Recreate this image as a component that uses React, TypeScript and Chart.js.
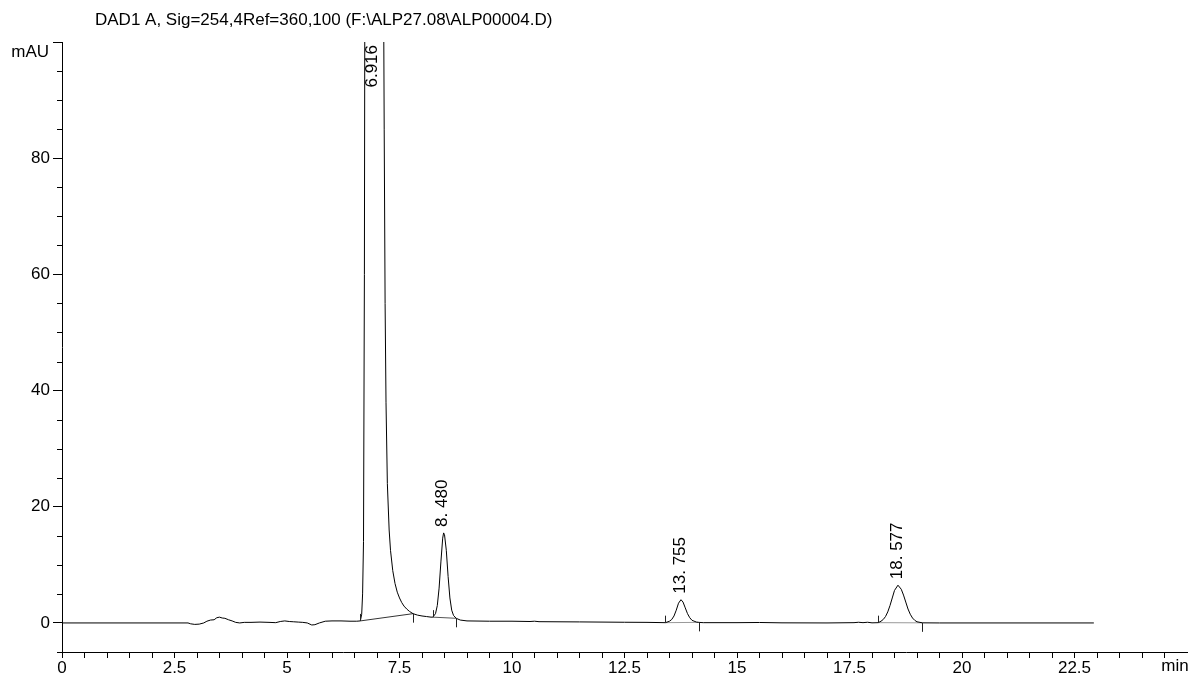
import { useEffect, useRef } from 'react';
import { Chart, registerables } from 'chart.js';

Chart.register(...registerables);

const TITLE = 'DAD1 A, Sig=254,4Ref=360,100 (F:\\ALP27.08\\ALP00004.D)';
const Y_UNIT = 'mAU';
const X_UNIT = 'min';

const times = [
  0, 1.0, 2.0, 2.8, 2.86, 2.95, 3.05, 3.15, 3.22, 3.30, 3.38, 3.44, 3.50, 3.56, 3.62, 3.70, 3.78, 3.86, 3.95,
  4.05, 4.20, 4.40, 4.60, 4.75, 4.85, 4.95, 5.05, 5.15, 5.25, 5.35, 5.45, 5.55, 5.62, 5.72, 5.85, 6.00, 6.20,
  6.40, 6.55, 6.63, 6.66, 6.68, 6.70, 6.72, 6.74, 6.78, 6.84, 6.916, 6.98, 7.04, 7.10, 7.14, 7.16, 7.18, 7.20,
  7.23, 7.27, 7.30, 7.35, 7.40, 7.45, 7.50, 7.55, 7.60, 7.66, 7.72, 7.80, 7.90, 8.00, 8.10, 8.20, 8.24, 8.30,
  8.34, 8.38, 8.42, 8.46, 8.48, 8.50, 8.54, 8.58, 8.62, 8.66, 8.70, 8.76, 8.85, 9.00, 9.50, 10.00, 10.40, 10.50,
  10.60, 11.00, 11.50, 12.00, 12.50, 13.00, 13.41, 13.50, 13.55, 13.60, 13.65, 13.70, 13.755, 13.80, 13.85,
  13.90, 13.95, 14.00, 14.10, 14.15, 14.25, 15.00, 15.50, 16.00, 17.00, 17.60, 17.70, 17.80, 17.90, 18.00,
  18.14, 18.20, 18.25, 18.30, 18.35, 18.40, 18.45, 18.50, 18.577, 18.65, 18.70, 18.75, 18.80, 18.85, 18.90,
  18.95, 19.00, 19.12, 19.50, 21.00, 22.93,
];

const signal = [
  0, 0, 0, 0, -0.15, -0.25, -0.2, 0.0, 0.3, 0.5, 0.55, 0.9, 1.0, 0.85, 0.8, 0.55, 0.35, 0.1, 0.0,
  0.1, 0.1, 0.15, 0.1, 0.05, 0.25, 0.35, 0.25, 0.2, 0.15, 0.1, 0.0, -0.35, -0.3, 0.0, 0.3, 0.35, 0.35,
  0.3, 0.3, 0.35, 1.5, 5, 14, 60, 160, 450, 900, 1200, 1000, 600, 260, 120, 85, 55, 38,
  24, 16, 12.5, 9, 6.8, 5.3, 4.3, 3.5, 2.9, 2.4, 2.0, 1.6, 1.35, 1.2, 1.1, 1.0, 1.0, 1.6,
  3.0, 6.0, 10.5, 14.6, 15.5, 15.2, 12.5, 8.0, 4.3, 2.2, 1.3, 0.8, 0.5, 0.35, 0.3, 0.3, 0.25, 0.3,
  0.22, 0.2, 0.18, 0.15, 0.12, 0.1, 0.05, 0.3, 0.6, 1.2, 2.2, 3.4, 4.0, 3.6, 2.6,
  1.6, 0.9, 0.45, 0.15, 0.1, 0.05, 0.05, 0.08, 0.02, 0.0, 0.05, 0.12, 0.05, 0.12, 0.02,
  0.05, 0.3, 0.6, 1.1, 1.9, 3.0, 4.3, 5.6, 6.5, 5.8, 4.8, 3.6, 2.4, 1.5, 0.85,
  0.45, 0.2, 0.02, 0.0, 0.0, 0.0,
];

const peakTimes = [6.916, 8.48, 13.755, 18.577];
const peakLabels = ['6.916', '8. 480', '13. 755', '18. 577'];
const peakHeights = [1200, 15.5, 4.0, 6.5];
const peakStartTimes = [6.63, 8.24, 13.41, 18.14];
const peakStartValues = [0.35, 1.0, 0.05, 0.05];
const peakEndTimes = [7.8, 8.76, 14.15, 19.12];
const peakEndValues = [1.6, 0.8, 0.1, 0.02];
const baselineColors = ['#333333', '#555555', '#999999', '#999999'];

const X_MIN = 0;
const X_MAX = 25;
const X_LAST_TICK = 24.5;
const X_STEP = 0.5;
const X_LABEL_STEP = 2.5;
const Y_MIN = -5;
const Y_MAX = 100;
const Y_STEP = 5;
const Y_LABEL_STEP = 20;

const FONT = '"Liberation Sans", Arial, sans-serif';

const isMultiple = (v: number, step: number) => Math.abs(v / step - Math.round(v / step)) < 1e-6;

const decorPlugin = {
  id: 'chromDecor',
  afterDraw(chart: any) {
    const { ctx, chartArea, scales } = chart;
    const xs = scales.x;
    const ys = scales.y;
    ctx.save();
    // minor y ticks
    ctx.strokeStyle = '#000';
    ctx.lineWidth = 1;
    for (let v = Y_MIN; v <= Y_MAX + 1e-9; v += Y_STEP) {
      if (isMultiple(v, Y_LABEL_STEP)) continue;
      const py = Math.round(ys.getPixelForValue(v)) + 0.5;
      ctx.beginPath();
      ctx.moveTo(chartArea.left - 5, py);
      ctx.lineTo(chartArea.left, py);
      ctx.stroke();
    }
    // peak boundary marks
    ctx.strokeStyle = '#222';
    for (let i = 0; i < peakStartTimes.length; i++) {
      const sx = Math.round(xs.getPixelForValue(peakStartTimes[i])) + 0.5;
      const sy = ys.getPixelForValue(peakStartValues[i]);
      ctx.beginPath();
      ctx.moveTo(sx, sy);
      ctx.lineTo(sx, sy - 7);
      ctx.stroke();
      const ex = Math.round(xs.getPixelForValue(peakEndTimes[i])) + 0.5;
      const ey = ys.getPixelForValue(peakEndValues[i]);
      ctx.beginPath();
      ctx.moveTo(ex, ey);
      ctx.lineTo(ex, ey + 9);
      ctx.stroke();
    }
    // peak labels
    ctx.fillStyle = '#000';
    ctx.font = `17px ${FONT}`;
    ctx.textBaseline = 'middle';
    for (let i = 0; i < peakTimes.length; i++) {
      const px = xs.getPixelForValue(peakTimes[i]) - 1;
      ctx.save();
      if (peakHeights[i] >= Y_MAX) {
        ctx.translate(px, chartArea.top + 3);
        ctx.rotate(-Math.PI / 2);
        ctx.textAlign = 'right';
      } else {
        ctx.translate(px, ys.getPixelForValue(peakHeights[i]) - 6);
        ctx.rotate(-Math.PI / 2);
        ctx.textAlign = 'left';
      }
      ctx.fillText(peakLabels[i], 0, 0);
      ctx.restore();
    }
    // title and units
    ctx.font = `17px ${FONT}`;
    ctx.textAlign = 'left';
    ctx.textBaseline = 'middle';
    ctx.fillText(TITLE, 95, 20);
    ctx.textAlign = 'right';
    ctx.fillText(Y_UNIT, 49, 52);
    ctx.textAlign = 'center';
    ctx.fillText(X_UNIT, 1175, 666);
    ctx.restore();
  },
};

export default function App() {
  const ref = useRef<HTMLCanvasElement>(null);
  useEffect(() => {
    if (!ref.current) return;
    const traceData = times.map((t, i) => ({ x: t, y: signal[i] }));
    const baselineSets = peakStartTimes.map((t, i) => ({
      data: [
        { x: t, y: peakStartValues[i] },
        { x: peakEndTimes[i], y: peakEndValues[i] },
      ],
      borderColor: baselineColors[i],
      borderWidth: 1,
      pointRadius: 0,
      tension: 0,
    }));
    const chart = new Chart(ref.current, {
      type: 'line',
      data: {
        datasets: [
          {
            data: traceData,
            borderColor: '#000',
            borderWidth: 1,
            pointRadius: 0,
            tension: 0,
          },
          ...baselineSets,
        ],
      },
      options: {
        animation: false,
        responsive: true,
        maintainAspectRatio: false,
        parsing: true,
        layout: { padding: { left: 0, top: 42, right: 6, bottom: 0 } },
        plugins: {
          legend: { display: false },
          tooltip: { enabled: false },
          title: { display: false },
        },
        scales: {
          x: {
            type: 'linear',
            min: X_MIN,
            max: X_MAX,
            afterBuildTicks: (scale: any) => {
              scale.ticks = scale.ticks.filter((t: any) => t.value <= X_LAST_TICK + 1e-9);
            },
            afterFit: (scale: any) => {
              scale.height = 28;
            },
            border: { display: true, color: '#000', width: 1 },
            grid: {
              display: true,
              drawOnChartArea: false,
              drawTicks: true,
              tickLength: 6,
              tickColor: '#000',
            },
            ticks: {
              stepSize: X_STEP,
              autoSkip: false,
              maxRotation: 0,
              padding: 0,
              color: '#000',
              font: { family: FONT, size: 17 },
              callback: (v: any) => (isMultiple(Number(v), X_LABEL_STEP) ? String(Number(v)) : ''),
            },
          },
          y: {
            type: 'linear',
            min: Y_MIN,
            max: Y_MAX,
            afterFit: (scale: any) => {
              scale.width = 62;
            },
            border: { display: true, color: '#000', width: 1 },
            grid: {
              display: true,
              drawOnChartArea: false,
              drawTicks: true,
              tickLength: 9,
              tickColor: (c: any) =>
                c.tick && isMultiple(c.tick.value, Y_LABEL_STEP) ? '#000' : 'rgba(0,0,0,0)',
            },
            ticks: {
              stepSize: Y_STEP,
              autoSkip: false,
              padding: 3,
              color: '#000',
              font: { family: FONT, size: 17 },
              callback: (v: any) => {
                const n = Number(v);
                if (n >= Y_MAX) return '';
                return isMultiple(n, Y_LABEL_STEP) ? String(n) : '';
              },
            },
          },
        },
      },
      plugins: [decorPlugin],
    });
    return () => chart.destroy();
  }, []);
  return (
    <div
      style={{
        position: 'absolute',
        left: 0,
        top: 0,
        width: '1193px',
        height: '680px',
        background: '#fff',
      }}
    >
      <canvas ref={ref} />
    </div>
  );
}
